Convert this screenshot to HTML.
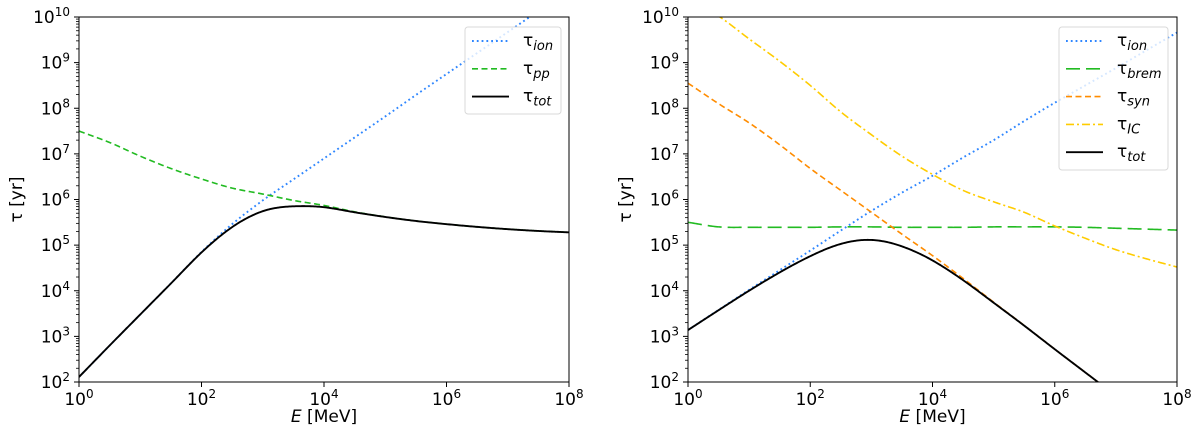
<!DOCTYPE html>
<html><head><meta charset="utf-8">
<style>
html,body{margin:0;padding:0;background:#fff;}
svg{display:block;font-family:"DejaVu Sans","Liberation Sans",sans-serif;}
</style></head>
<body>
<svg id="fig" width="1200" height="445" viewBox="0 0 1200 445" xmlns="http://www.w3.org/2000/svg"></svg>
<script>
// Shared log-energy grid (log10 E/MeV)
const logE = [0,0.5,1,1.5,2,2.5,3,3.5,4,4.5,5,5.5,6,6.5,7,7.5,8];
// Left panel (protons), log10 tau [yr]
const leftIon = [2.11,2.8,3.48,4.16,4.85,5.46,5.98,6.44,6.9,7.36,7.82,8.29,8.75,9.21,9.67,10.13,10.59];
const leftPP  = [7.5,7.25,6.95,6.68,6.45,6.25,6.12,5.98,5.87,5.73,5.62,5.53,5.46,5.4,5.35,5.31,5.28];
// Right panel (electrons)
const rightIon  = [3.14,3.58,4.02,4.45,4.88,5.32,5.75,6.15,6.52,6.92,7.3,7.72,8.12,8.5,8.88,9.27,9.66];
const rightBrem = [5.5,5.4,5.39,5.39,5.39,5.4,5.4,5.39,5.39,5.39,5.4,5.4,5.4,5.39,5.37,5.35,5.33];
const rightSyn  = [8.55,8.1,7.68,7.2,6.68,6.2,5.72,5.24,4.77,4.27,3.75,3.24,2.72,2.21,1.7,1.2,0.7];
const rightIC   = [10.4,10.02,9.52,9.03,8.5,7.92,7.42,6.95,6.55,6.2,5.95,5.72,5.42,5.15,4.9,4.7,4.52];
const xTicks = [0,2,4,6,8];
const yTicks = [2,3,4,5,6,7,8,9,10];

const NS="http://www.w3.org/2000/svg";
const svg=document.getElementById('fig');
function mk(tag,attrs,parent){const e=document.createElementNS(NS,tag);for(const k in attrs)e.setAttribute(k,attrs[k]);(parent||svg).appendChild(e);return e;}

function interp(arr,x){
  const step=logE[1]-logE[0];
  const t=(x-logE[0])/step;let i=Math.floor(t);if(i>=arr.length-1)i=arr.length-2;if(i<0)i=0;
  const u=t-i;const n=arr.length;
  const p1=arr[i],p2=arr[i+1];
  const p0=i>0?arr[i-1]:2*p1-p2;
  const p3=i+2<n?arr[i+2]:2*p2-p1;
  return 0.5*((2*p1)+(-p0+p2)*u+(2*p0-5*p1+4*p2-p3)*u*u+(-p0+3*p1-3*p2+p3)*u*u*u);
}
function combine(list,x){let s=0;for(const a of list)s+=Math.pow(10,-interp(a,x));return -Math.log10(s);}

function panel(id,x0,x1,series,legend,leg){
  const top=17,bot=382;
  const X=v=>x0+(v-0)/(8-0)*(x1-x0);
  const Y=v=>bot-(v-2)/(10-2)*(bot-top);
  const g=mk('g',{});
  
  
  const cp=mk('clipPath',{id:id+'-clip'},g);
  mk('rect',{x:x0,y:top,width:x1-x0,height:bot-top},cp);
  const plot=mk('g',{'clip-path':'url(#'+id+'-clip)'},g);
  
  
  for(const s of series){
    let d='';
    for(let k=0;k<=400;k++){const lx=8*k/400;const ly=s.fn(lx);d+=(k?'L':'M')+X(lx).toFixed(2)+','+Y(ly).toFixed(2);}
    const p=mk('path',{d:d,fill:'none',stroke:s.color,'stroke-width':s.w||1.6,'stroke-dasharray':s.dash||'none'},plot);
    
    
  }
  const fr=mk('rect',{x:x0,y:top,width:x1-x0,height:bot-top,fill:'none',stroke:'#000','stroke-width':1},g);
  
  
  for(const t of xTicks){
    mk('line',{x1:X(t),x2:X(t),y1:bot,y2:bot+5,stroke:'#000','stroke-width':1},g);
    const tx=mk('text',{x:X(t),y:405,'text-anchor':'middle','font-size':17},g);
    
    
    tx.innerHTML='10<tspan dy="-7" font-size="12">'+t+'</tspan>';
  }
  for(const t of yTicks){
    mk('line',{x1:x0-5,x2:x0,y1:Y(t),y2:Y(t),stroke:'#000','stroke-width':1},g);
    if(t<10){for(let m=2;m<10;m++){const yy=Y(t+Math.log10(m));mk('line',{x1:x0-3,x2:x0,y1:yy,y2:yy,stroke:'#000','stroke-width':0.8},g);}}
    const ty=mk('text',{x:x0-9,y:Y(t)+6,'text-anchor':'end','font-size':17},g);
    
    
    ty.innerHTML='10<tspan dy="-7" font-size="12">'+t+'</tspan>';
  }
  const xl=mk('text',{x:(x0+x1)/2,y:422,'text-anchor':'middle','font-size':17},g);
  
  
  xl.innerHTML='<tspan font-style="italic">E</tspan> [MeV]';
  const yl=mk('text',{x:0,y:0,'text-anchor':'middle','font-size':17,transform:'translate('+(x0-57)+','+((top+bot)/2)+') rotate(-90)'},g);
  
  
  yl.textContent='τ [yr]';
  const lg=mk('g',{},g);
  
  
  mk('rect',{x:leg.x,y:27,width:leg.w,height:legend.length*28+3,rx:3,fill:'#fff','fill-opacity':0.8,stroke:'#d9d9d9','stroke-width':1},lg);
  legend.forEach((s,i)=>{
    const yy=41+i*27.8;
    const e=mk('g',{},lg);
    
    
    mk('line',{x1:leg.x+7,x2:leg.x+44,y1:yy,y2:yy,stroke:s.color,'stroke-width':s.w||1.6,'stroke-dasharray':s.dash||'none'},e);
    const t=mk('text',{x:leg.x+58,y:yy+5,'font-size':17},e);
    t.innerHTML='τ<tspan dy="4" font-size="13" font-style="italic">'+s.label+'</tspan>';
  });
}

const cIon='#2e86ff',cGreen='#22bb22',cSyn='#ff8c00',cIC='#ffcc00';
const dot='1.8,3',dash='6,3.5',ldash='14,6',dashdot='8,3,2,3';
const L=[
 {name:'left-tau-ion-line',label:'ion',color:cIon,dash:dot,w:1.9,fn:x=>interp(leftIon,x)},
 {name:'left-tau-pp-line',label:'pp',color:cGreen,dash:dash,fn:x=>interp(leftPP,x)},
 {name:'left-tau-tot-line',label:'tot',color:'#000',w:1.9,fn:x=>combine([leftIon,leftPP],x)}
];
panel('left',79,569,L,L,{x:465,w:96});
const R=[
 {name:'right-tau-ion-line',label:'ion',color:cIon,dash:dot,w:1.9,fn:x=>interp(rightIon,x)},
 {name:'right-tau-brem-line',label:'brem',color:cGreen,dash:ldash,fn:x=>interp(rightBrem,x)},
 {name:'right-tau-syn-line',label:'syn',color:cSyn,dash:dash,fn:x=>interp(rightSyn,x)},
 {name:'right-tau-ic-line',label:'IC',color:cIC,dash:dashdot,fn:x=>interp(rightIC,x)},
 {name:'right-tau-tot-line',label:'tot',color:'#000',w:1.9,fn:x=>combine([rightIon,rightBrem,rightSyn,rightIC],x)}
];
panel('right',688,1177,R,R,{x:1059,w:109});
</script>
</body></html>
